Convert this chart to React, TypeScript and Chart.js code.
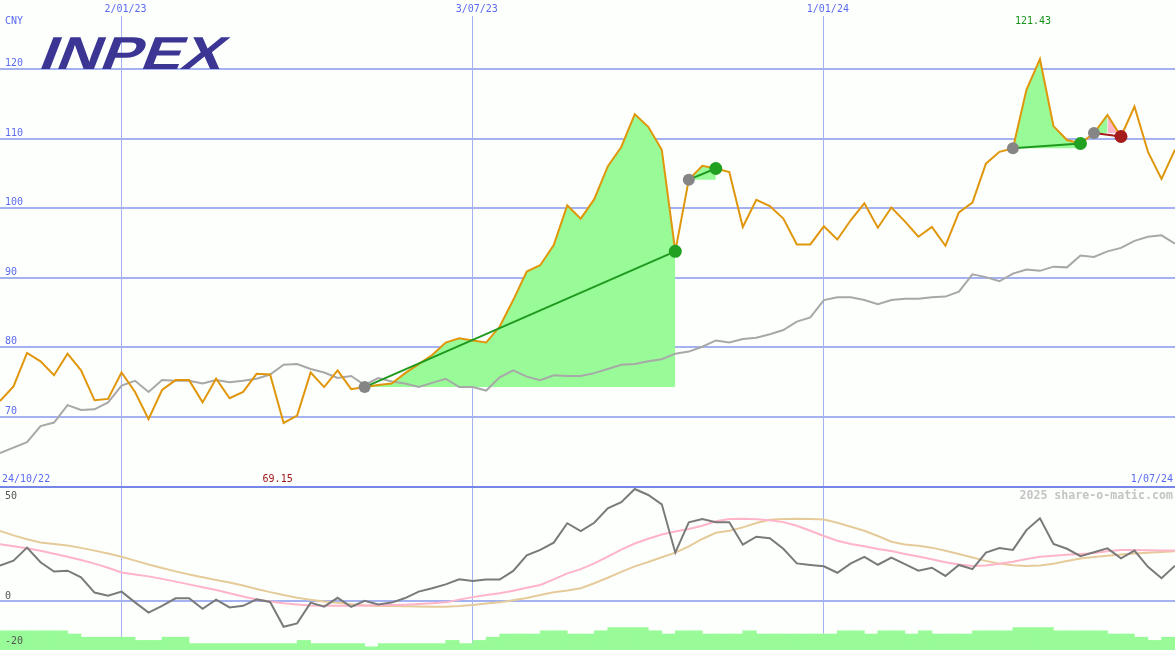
import React, { useEffect, useRef } from 'react';
import Chart from 'chart.js/auto';

// ---- data (weekly, first week starting 31/10/22) ----
const PRICE = [
  72.3, 74.4, 79.2, 78.0, 76.0, 79.1, 76.7, 72.4, 72.6, 76.4,
  73.6, 69.7, 73.9, 75.3, 75.3, 72.1, 75.5, 72.7, 73.6, 76.2,
  76.1, 69.15, 70.2, 76.4, 74.3, 76.7, 74.0, 74.3, 74.6, 74.8,
  76.3, 77.6, 78.9, 80.7, 81.3, 81.0, 80.7, 83.0, 86.8, 90.9,
  91.8, 94.7, 100.4, 98.5, 101.3, 106.0, 108.8, 113.5, 111.7, 108.4,
  93.8, 104.1, 106.1, 105.7, 105.2, 97.3, 101.2, 100.3, 98.5, 94.8,
  94.8, 97.4, 95.5, 98.3, 100.7, 97.2, 100.1, 98.1, 95.9, 97.3,
  94.6, 99.4, 100.8, 106.4, 108.1, 108.6, 117.0, 121.43, 111.8, 109.8,
  109.3, 110.8, 113.4, 110.3, 114.6, 108.1, 104.2, 108.4,
];

const PRICE_AVG = [
  64.8, 65.6, 66.4, 68.7, 69.2, 71.7, 71.0, 71.1, 72.1, 74.5,
  75.2, 73.6, 75.3, 75.2, 75.2, 74.8, 75.3, 75.0, 75.2, 75.5,
  76.1, 77.5, 77.6, 76.9, 76.4, 75.6, 75.9, 74.6, 75.6, 75.1,
  74.8, 74.3, 74.9, 75.5, 74.3, 74.3, 73.8, 75.7, 76.7, 75.8,
  75.3, 76.0, 75.9, 75.9, 76.3, 76.9, 77.5, 77.6, 78.0, 78.3,
  79.1, 79.4, 80.1, 81.0, 80.7, 81.2, 81.4, 81.9, 82.5, 83.7,
  84.3, 86.8, 87.2, 87.2, 86.8, 86.2, 86.8, 87.0, 87.0, 87.2,
  87.3, 88.0, 90.5, 90.1, 89.5, 90.6, 91.2, 91.0, 91.6, 91.5,
  93.2, 93.0, 93.8, 94.3, 95.3, 95.9, 96.1, 94.9,
];

const OSC = [
  15.5, 17.7, 23.4, 17.0, 12.9, 13.3, 10.4, 3.7, 2.3, 4.1,
  -0.6, -5.1, -2.1, 1.2, 1.2, -3.4, 0.6, -2.8, -2.1, 0.7,
  -0.4, -11.3, -9.8, -0.7, -2.5, 1.4, -2.6, 0.1, -1.5, -0.7,
  1.3, 4.1, 5.6, 7.3, 9.5, 8.8, 9.4, 9.4, 13.2, 20.0,
  22.4, 25.6, 34.1, 30.7, 34.3, 40.6, 43.3, 49.1, 46.5, 42.4,
  21.2, 34.5, 36.0, 34.5, 34.5, 24.7, 28.2, 27.5, 22.9, 16.5,
  15.8, 15.2, 12.4, 16.5, 19.4, 15.9, 19.0, 16.2, 13.3, 14.6,
  11.0, 15.8, 14.0, 21.2, 23.2, 22.4, 31.1, 36.3, 25.0, 22.9,
  19.7, 21.4, 23.1, 18.7, 22.1, 15.0, 10.0, 15.5,
];

const OSC_FAST = [
  24.9, 24.0, 23.1, 22.0, 20.7, 19.4, 18.0, 16.4, 14.6, 12.5,
  11.6, 10.8, 9.7, 8.5, 7.3, 6.0, 4.8, 3.4, 2.0, 0.7,
  -0.2, -1.0, -1.5, -2.0, -2.1, -2.1, -2.1, -2.0, -1.9, -1.8,
  -1.6, -1.3, -1.0, -0.6, 0.6, 1.7, 2.6, 3.4, 4.5, 5.8,
  7.0, 9.5, 12.1, 14.0, 16.5, 19.5, 22.5, 25.2, 27.3, 29.2,
  30.5, 31.6, 33.0, 35.0, 36.0, 36.1, 35.9, 35.4, 34.6, 33.0,
  30.8, 28.5, 26.4, 25.0, 24.0, 22.8, 21.9, 20.6, 19.5, 18.3,
  17.0, 16.0, 15.4, 15.6, 16.3, 17.2, 18.4, 19.4, 19.9, 20.3,
  20.6, 21.0, 21.8, 22.4, 22.4, 22.3, 22.2, 22.1,
];

const OSC_SLOW = [
  30.7, 28.8, 27.1, 25.7, 25.0, 24.3, 23.3, 22.1, 20.8, 19.4,
  17.7, 16.0, 14.5, 13.0, 11.6, 10.4, 9.2, 8.1, 6.8, 5.3,
  3.9, 2.6, 1.4, 0.6, -0.2, -0.8, -1.4, -2.0, -2.2, -2.2,
  -2.3, -2.4, -2.5, -2.5, -2.2, -1.7, -1.1, -0.6, 0.3, 1.3,
  2.6, 3.8, 4.6, 5.6, 7.8, 10.2, 12.8, 15.2, 17.1, 19.2,
  21.2, 24.0, 27.2, 29.9, 30.8, 32.3, 34.2, 35.6, 36.0, 36.1,
  36.0, 35.7, 34.3, 32.6, 30.8, 28.5, 26.0, 24.8, 24.2, 23.4,
  22.0, 20.6, 19.1, 17.6, 16.4, 15.7, 15.4, 15.6, 16.3, 17.5,
  18.6, 19.3, 19.8, 20.4, 20.8, 21.2, 21.5, 21.8,
];

// one bar per week interval
const BAR_LEVELS = [
  6, 6, 6, 6, 6, 5, 4, 4, 4, 4,
  3, 3, 4, 4, 2, 2, 2, 2, 2, 2,
  2, 2, 3, 2, 2, 2, 2, 1, 2, 2,
  2, 2, 2, 3, 2, 3, 4, 5, 5, 5,
  6, 6, 5, 5, 6, 7, 7, 7, 6, 5,
  6, 6, 5, 5, 5, 6, 5, 5, 5, 5,
  5, 5, 6, 6, 5, 6, 6, 5, 6, 5,
  5, 5, 6, 6, 6, 7, 7, 7, 6, 6,
  6, 6, 5, 5, 4, 3, 4,
];

const PRICE_TICKS = [70, 80, 90, 100, 110, 120];
const OSC_TICKS = [-20, 0, 50];
const X_TICK_LABELS = ['2/01/23', '3/07/23', '1/01/24'];
const TRADE_ENTRY = [27, 51, 75, 81];
const TRADE_EXIT = [50, 53, 80, 83];

const CURRENCY = 'CNY';
const RANGE_START = '24/10/22';
const LOGO = 'INPEX';
const WATERMARK = '2025 share-o-matic.com';

const FIRST_WEEK = Date.UTC(2022, 9, 31);
const fmtDate = (d: Date) =>
  `${d.getUTCDate()}/${String(d.getUTCMonth() + 1).padStart(2, '0')}/${String(d.getUTCFullYear()).slice(2)}`;
const LABELS = PRICE.map((_, i) => fmtDate(new Date(FIRST_WEEK + i * 7 * 86400000)));
const BAR_LABELS = LABELS.slice(0, BAR_LEVELS.length);

const FONT = 'DejaVu Sans Mono';
const BLUE_TEXT = '#5b6bf0';
const GRID = '#a4b2f2';
const GREEN_FILL = '#98fb98';
const PINK_FILL = '#ffb6c8';
const OSC_TEXT = '#555555';

const noPad = (s: any) => {
  s.paddingTop = 0;
  s.paddingBottom = 0;
  s.paddingLeft = 0;
  s.paddingRight = 0;
};

export default function App() {
  const ref = useRef<HTMLCanvasElement | null>(null);

  useEffect(() => {
    const canvas = ref.current;
    if (!canvas) return;

    const nulls = () => PRICE.map(() => null as number | null);
    const datasets: any[] = [];

    // markers
    const entryPts = nulls();
    const winPts = nulls();
    const lossPts = nulls();
    TRADE_ENTRY.forEach((s, k) => {
      const e = TRADE_EXIT[k];
      entryPts[s] = PRICE[s];
      if (PRICE[e] >= PRICE[s]) winPts[e] = PRICE[e];
      else lossPts[e] = PRICE[e];
    });
    const marker = (data: (number | null)[], color: string, r: number) => ({
      type: 'line', data, showLine: false, pointRadius: r, pointHoverRadius: r,
      pointBackgroundColor: color, pointBorderWidth: 0, borderColor: color,
      xAxisID: 'x', yAxisID: 'y', order: 1,
    });
    datasets.push(marker(entryPts, '#858585', 6));
    datasets.push(marker(winPts, '#22a022', 6.5));
    datasets.push(marker(lossPts, '#a41c1c', 6.5));

    // trade lines & fills
    TRADE_ENTRY.forEach((s, k) => {
      const e = TRADE_EXIT[k];
      const win = PRICE[e] >= PRICE[s];
      const line = nulls();
      line[s] = PRICE[s];
      line[e] = PRICE[e];
      datasets.push({
        type: 'line', data: line, spanGaps: true, borderColor: win ? '#1f9a1f' : '#a41c1c',
        borderWidth: 2, pointRadius: 0, xAxisID: 'x', yAxisID: 'y', order: 2,
      });
      const seg = (a: number, b: number, color: string) => {
        const d = nulls();
        for (let i = a; i <= b; i++) d[i] = PRICE[i];
        datasets.push({
          type: 'line', data: d, borderWidth: 0, borderColor: 'rgba(0,0,0,0)', pointRadius: 0,
          fill: { value: PRICE[s] }, backgroundColor: color, xAxisID: 'x', yAxisID: 'y', order: 9,
        });
      };
      if (win) {
        seg(s, e, GREEN_FILL);
      } else {
        let peak = s;
        for (let i = s; i <= e; i++) if (PRICE[i] > PRICE[peak]) peak = i;
        seg(s, peak, GREEN_FILL);
        seg(peak, e, PINK_FILL);
      }
    });

    datasets.push({
      type: 'line', data: PRICE, borderColor: '#e0960a', borderWidth: 2, pointRadius: 0,
      xAxisID: 'x', yAxisID: 'y', order: 7,
    });
    datasets.push({
      type: 'line', data: PRICE_AVG, borderColor: '#a8a8a8', borderWidth: 2, pointRadius: 0,
      xAxisID: 'x', yAxisID: 'y', order: 8,
    });
    datasets.push({
      type: 'line', data: OSC, borderColor: '#7a7a7a', borderWidth: 2, pointRadius: 0,
      xAxisID: 'x', yAxisID: 'y2', order: 10,
    });
    datasets.push({
      type: 'line', data: OSC_FAST, borderColor: '#ffb4c8', borderWidth: 2, pointRadius: 0,
      xAxisID: 'x', yAxisID: 'y2', order: 11,
    });
    datasets.push({
      type: 'line', data: OSC_SLOW, borderColor: '#e6cb9a', borderWidth: 2, pointRadius: 0,
      xAxisID: 'x', yAxisID: 'y2', order: 12,
    });
    datasets.push({
      type: 'bar', data: BAR_LEVELS, backgroundColor: GREEN_FILL, borderWidth: 0,
      barPercentage: 1, categoryPercentage: 1, grouped: false,
      xAxisID: 'x2', yAxisID: 'y3', order: 20,
    });

    let minIdx = 0;
    let maxIdx = 0;
    PRICE.forEach((v, i) => {
      if (v < PRICE[minIdx]) minIdx = i;
      if (v > PRICE[maxIdx]) maxIdx = i;
    });

    const bgPlugin = {
      id: 'bg',
      beforeDraw(chart: any) {
        const c = chart.ctx;
        c.save();
        c.fillStyle = '#fdfffd';
        c.fillRect(0, 0, chart.width, chart.height);
        c.restore();
      },
    };

    const textPlugin = {
      id: 'texts',
      afterDraw(chart: any) {
        const c = chart.ctx;
        const xs = chart.scales.x;
        const y2 = chart.scales.y2;
        c.save();
        // logo
        c.fillStyle = '#3b3694';
        c.font = `bold 46px "Liberation Sans"`;
        c.textBaseline = 'alphabetic';
        c.textAlign = 'left';
        const w = c.measureText(LOGO).width;
        c.translate(37, chart.scales.y.getPixelForValue(120));
        c.transform(1, 0, -0.39, 1, 0, 0);
        c.scale(183 / w, 1);
        c.fillText(LOGO, 0, 0);
        c.restore();

        c.save();
        c.font = `10px "${FONT}"`;
        c.textBaseline = 'middle';
        c.fillStyle = BLUE_TEXT;
        c.textAlign = 'left';
        c.fillText(CURRENCY, 5, 21);
        const sepY = y2.getPixelForValue(OSC_TICKS[2]);
        c.fillText(RANGE_START, 2, sepY - 8);
        c.textAlign = 'right';
        c.fillText(LABELS[LABELS.length - 1], 1173, sepY - 8);
        c.textAlign = 'center';
        c.fillStyle = '#a01818';
        c.fillText(PRICE[minIdx].toFixed(2), xs.getPixelForValue(minIdx) - 6, sepY - 8);
        c.fillStyle = '#16931a';
        c.fillText(PRICE[maxIdx].toFixed(2), xs.getPixelForValue(maxIdx) - 7, 21);
        c.textAlign = 'left';
        c.fillStyle = OSC_TEXT;
        c.fillText(String(OSC_TICKS[2]), 5, sepY + 9);
        c.fillText(String(OSC_TICKS[0]), 5, y2.getPixelForValue(OSC_TICKS[0]) - 5);
        c.textAlign = 'right';
        c.font = `bold 11.6px "${FONT}"`;
        c.fillStyle = '#c4c4c4';
        c.fillText(WATERMARK, 1173, sepY + 9);
        c.restore();
      },
    };

    const chart = new Chart(canvas, {
      type: 'line',
      data: { labels: LABELS, datasets },
      options: {
        responsive: false,
        animation: false,
        devicePixelRatio: 1,
        events: [],
        layout: { padding: 0, autoPadding: false },
        datasets: { bar: { barPercentage: 1, categoryPercentage: 1 } },
        plugins: { legend: { display: false }, tooltip: { enabled: false }, title: { display: false } },
        scales: {
          x: {
            type: 'category',
            position: 'top',
            offset: false,
            afterFit: (s: any) => { s.height = 16; noPad(s); },
            afterBuildTicks: (s: any) => {
              s.ticks = X_TICK_LABELS.map((l) => ({ value: LABELS.indexOf(l) }));
            },
            grid: { color: GRID, lineWidth: 1, drawTicks: false, offset: false },
            border: { display: false },
            ticks: {
              autoSkip: false, maxRotation: 0, padding: 1, labelOffset: 4,
              color: BLUE_TEXT, font: { family: FONT, size: 10 },
            },
          },
          x2: {
            type: 'category',
            labels: BAR_LABELS,
            offset: true,
            display: false,
            afterFit: noPad,
          },
          y: {
            type: 'linear',
            position: 'left',
            min: 36.523,
            max: 127.615,
            afterFit: (s: any) => { s.width = 0; noPad(s); },
            afterBuildTicks: (s: any) => { s.ticks = PRICE_TICKS.map((v) => ({ value: v })); },
            grid: { color: GRID, lineWidth: 2, drawTicks: false },
            border: { display: false },
            ticks: {
              mirror: true, padding: 5, labelOffset: -5.5, color: BLUE_TEXT,
              font: { family: FONT, size: 10 }, callback: (v: any) => String(v),
            },
          },
          y2: {
            type: 'linear',
            position: 'left',
            min: -21.49,
            max: 256.58,
            afterFit: (s: any) => { s.width = 0; noPad(s); },
            afterBuildTicks: (s: any) => { s.ticks = OSC_TICKS.map((v) => ({ value: v })); },
            grid: {
              drawTicks: false,
              lineWidth: 2,
              color: (ctx: any) => (ctx.tick && ctx.tick.value === 50 ? '#7585e8' : ctx.tick && ctx.tick.value === 0 ? GRID : 'rgba(0,0,0,0)'),
            },
            border: { display: false },
            ticks: {
              mirror: true, padding: 5, labelOffset: -5, color: OSC_TEXT,
              font: { family: FONT, size: 10 },
              callback: (v: any) => (v === 0 ? '0' : ''),
            },
          },
          y3: {
            type: 'linear',
            position: 'left',
            min: 0,
            max: 198,
            display: false,
            afterFit: noPad,
          },
        },
      } as any,
      plugins: [bgPlugin, textPlugin],
    });

    return () => chart.destroy();
  }, []);

  return (
    <div style={{ position: 'absolute', left: 0, top: 0, width: 1175, height: 650 }}>
      <canvas ref={ref} width={1175} height={650} style={{ display: 'block' }} />
    </div>
  );
}
